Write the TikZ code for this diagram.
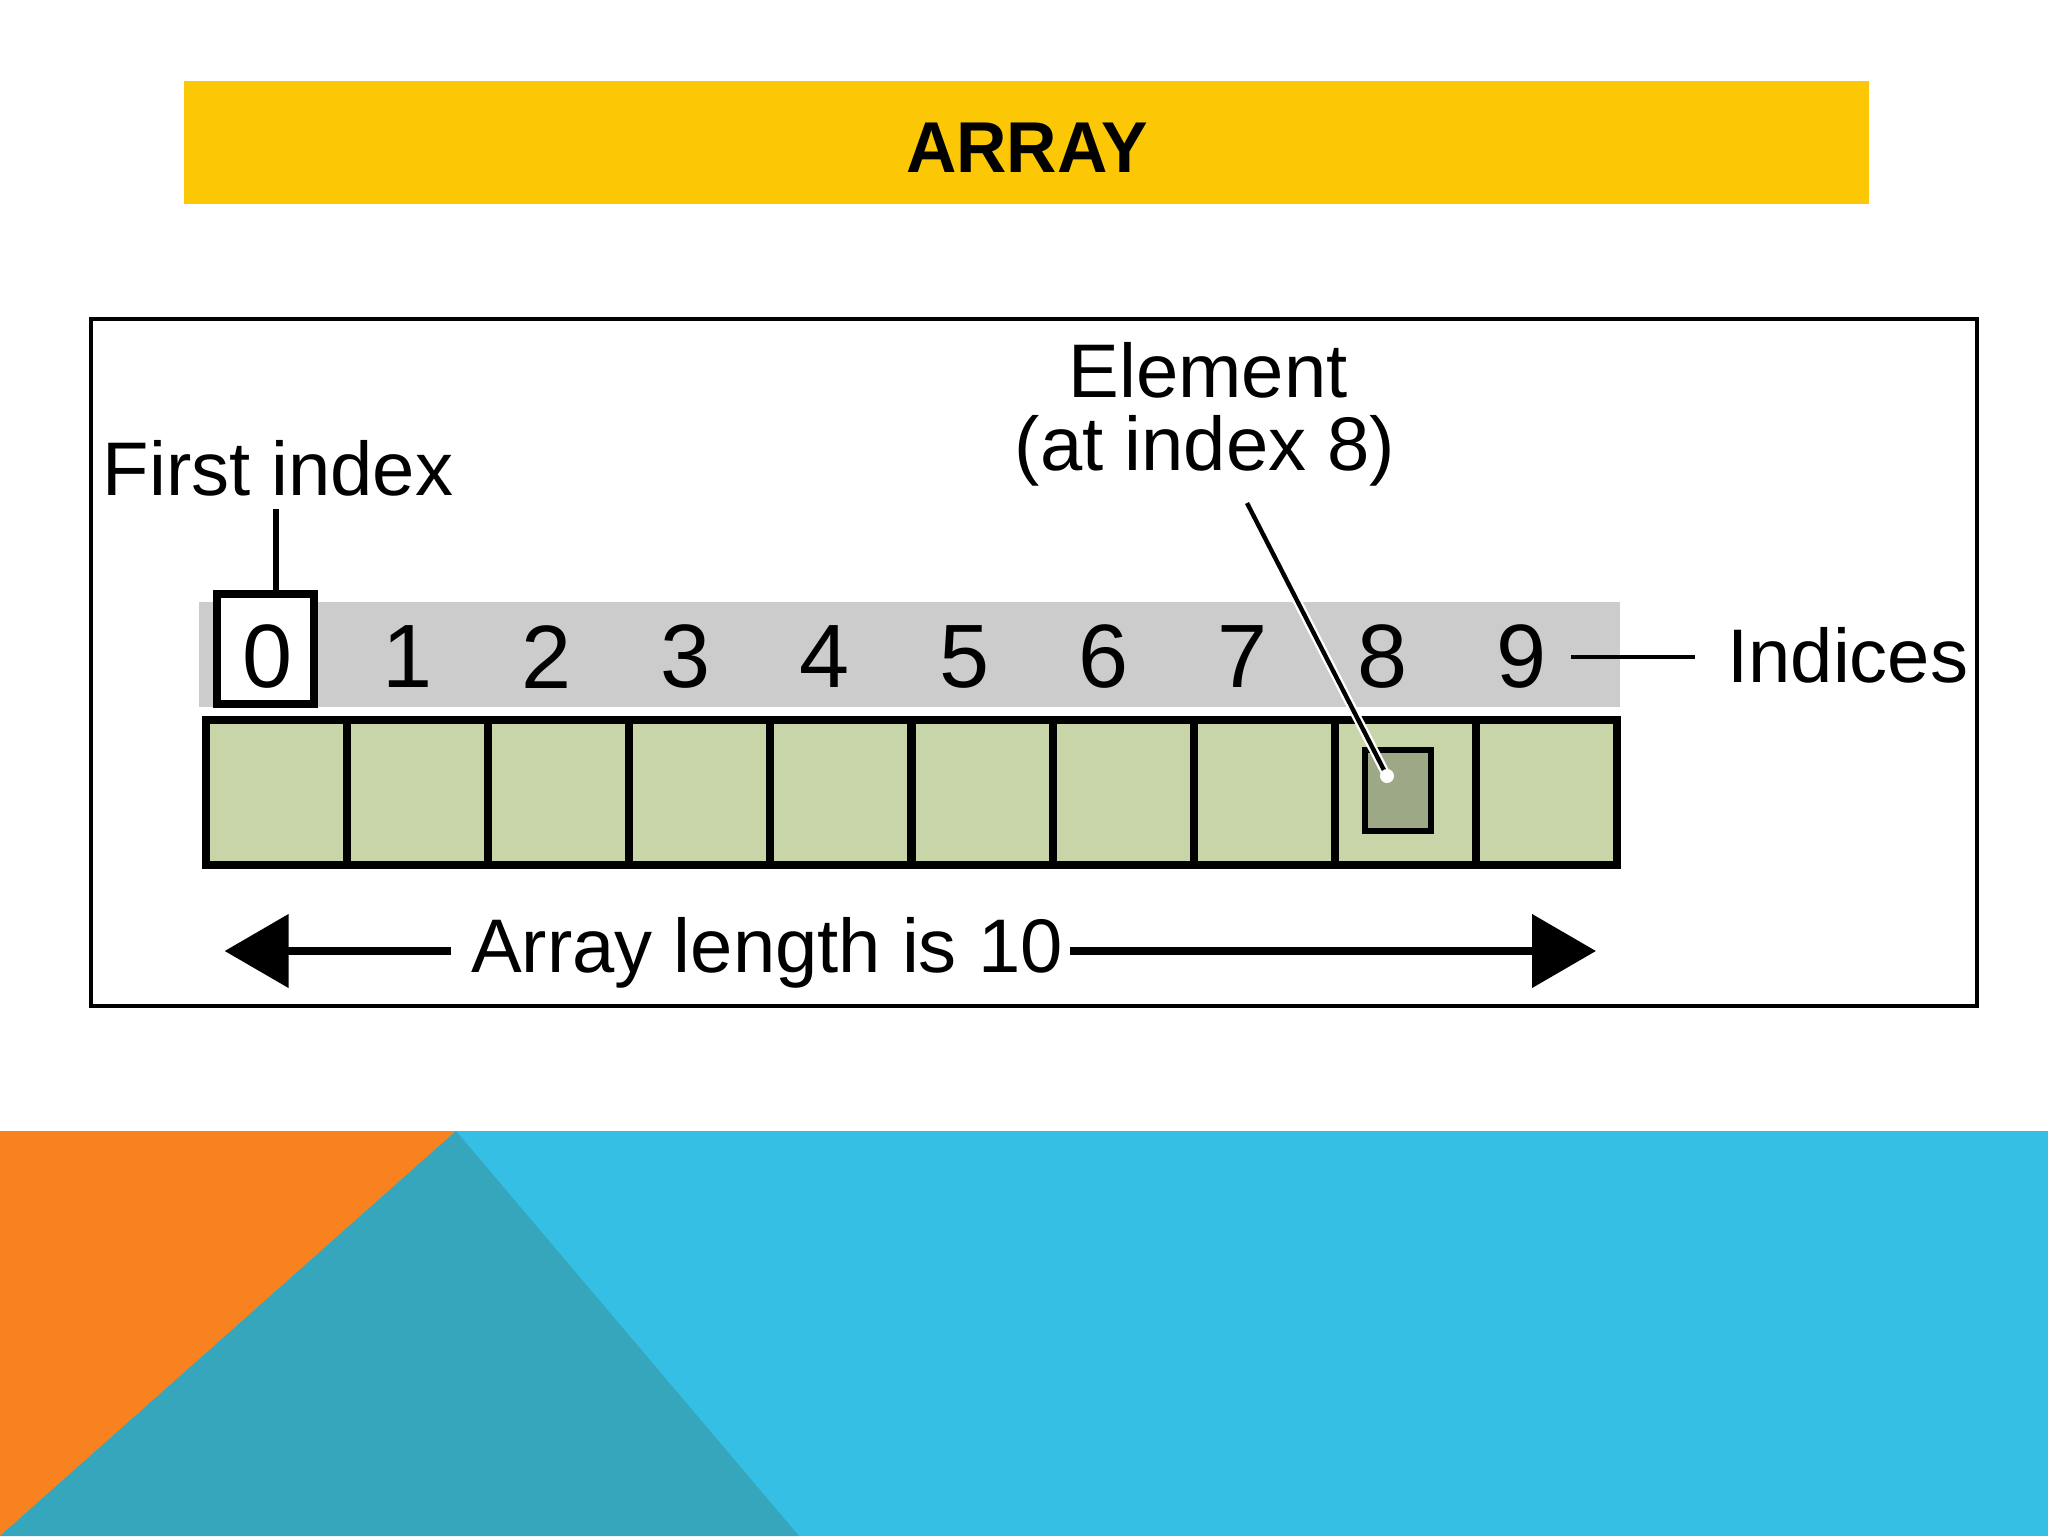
\documentclass[tikz,border=0pt]{standalone}
\usepackage{fontspec}
\usepackage{graphicx}
\setmainfont{Liberation Sans}
\usetikzlibrary{arrows.meta}
\definecolor{titleyellow}{HTML}{FCC805}
\definecolor{slideorange}{HTML}{F7821F}
\definecolor{slideblue}{HTML}{36BFE4}
\definecolor{slideteal}{HTML}{35A6BC}
\definecolor{bandgray}{HTML}{CCCCCC}
\definecolor{cellgreen}{HTML}{C8D5A8}
\definecolor{elemgreen}{HTML}{9DA887}
\tikzset{
  lbl/.style={inner sep=0pt, font=\fontsize{38pt}{40.5pt}\selectfont},
  digit/.style={inner sep=0pt, font=\fontsize{45pt}{47pt}\selectfont},
  cell/.style={draw=black, line width=4pt, fill=cellgreen, minimum width=70.5pt, minimum height=72.5pt, inner sep=0pt},
  leader/.style={line width=2.2pt, black},
  lenarrow/.style={line width=4pt, -{Triangle[length=32pt,width=36pt]}},
}
\begin{document}
\begin{tikzpicture}[x=0.5pt,y=-0.5pt]
\useasboundingbox (0,0) rectangle (2048,1536);
\fill[white] (0,0) rectangle (2048,1536);
% bottom decoration
\fill[slideblue] (0,1131) rectangle (2048,1536);
\fill[slideorange] (0,1131) -- (456,1131) -- (0,1536) -- cycle;
\fill[slideteal] (456,1131) -- (799,1536) -- (0,1536) -- cycle;
% title bar
\fill[titleyellow] (184,81) rectangle (1869,204);
\node[inner sep=0pt, font=\bfseries\fontsize{36pt}{38pt}\selectfont] (title) at (1027,148) {\scalebox{0.97}[1]{ARRAY}};
% frame
\draw[line width=1.6pt] (91,319) rectangle (1977,1006);
% gray index band
\fill[bandgray] (198.5,602) rectangle (1619.5,707);
% box around 0
\node[draw=black, line width=4pt, fill=white, minimum width=48.5pt, minimum height=55pt, inner sep=0pt] (zbox) at (265.5,649) {};
% digits
\foreach \i [count=\k from 0] in {267.8,407.1,546.4,685.7,825.0,964.3,1103.6,1242.9,1382.2,1521.5} {
  \node[digit] (d\k) at (\i,657) {\k};
}
% cells
\foreach \k in {0,...,9} {
  \node[cell] (c\k) at ({276.5+141.1*\k},792) {};
}
% element at index 8
\node[draw=black, line width=3pt, fill=elemgreen, minimum width=33pt, minimum height=40.5pt, inner sep=0pt] (elem) at (1398,790) {};
% labels
\node[lbl] (first) at (278,468) {First index};
\coordinate (firstfoot) at (276,509);
\draw[line width=2.6pt] (firstfoot) -- (firstfoot |- zbox.north);
\node[lbl] (el1) at (1208,370) {Element};
\node[lbl] (el2) at (1205,451) {(at index 8)};
\node[lbl, anchor=west] (ind) at (1727,655) {Indices};
\coordinate (indl) at (1571,657);
\coordinate (indr) at (1695,657);
\draw[leader] (indl) -- (indr);
\coordinate (ptrstart) at (1247,503);
\coordinate (ptrend) at (1387,776);
\draw[white, line width=4.5pt] (ptrstart) -- (ptrend);
\draw[leader] (ptrstart) -- (ptrend);
\fill[white] (ptrend) circle (3.5pt);
% length arrow
\node[lbl] (len) at (767,953) {Array length is 10};
\coordinate (aleft) at (224.6,951);
\coordinate (aright) at (1596,951);
\coordinate (lenl) at (451,951);
\coordinate (lenr) at (1070,951);
\draw[lenarrow] (lenl) -- (aleft);
\draw[lenarrow] (lenr) -- (aright);
\end{tikzpicture}
\end{document}
